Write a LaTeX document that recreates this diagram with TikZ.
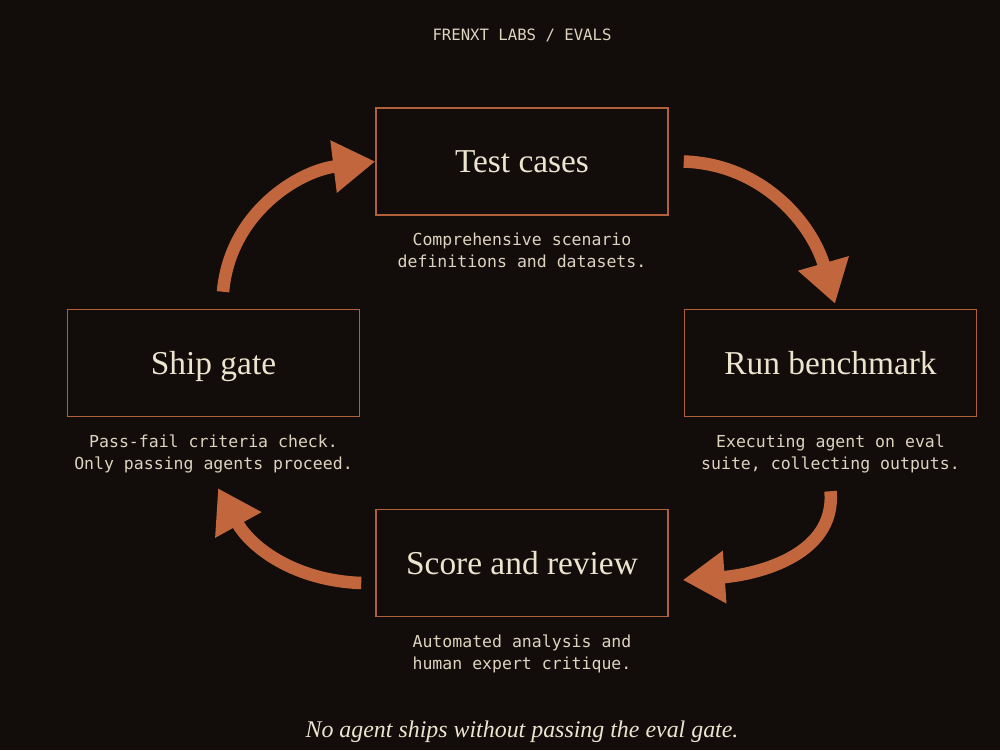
\documentclass[tikz,border=0pt]{standalone}
\usepackage{fontspec}
\usepackage{tikz}
\usetikzlibrary{positioning,arrows.meta}
\newfontfamily\monofont{DejaVu Sans Mono}
\newfontfamily\headfont{Liberation Serif}
\definecolor{bgdark}{HTML}{120D0B}
\definecolor{rust}{HTML}{B0603B}
\definecolor{arrowrust}{HTML}{C2673D}
\definecolor{cream}{HTML}{EDE4CF}
\definecolor{sand}{HTML}{DDD3BF}
\tikzset{
  stage/.style={draw=rust,line width=0.85pt,minimum width=5.84cm,minimum height=2.14cm,inner sep=0pt,text height=0.44cm,text depth=0pt,text=cream,font=\headfont\fontsize{19}{23}\selectfont},
  blurb/.style={text=sand,font=\monofont\fontsize{9.4}{12.5}\selectfont,align=center,inner sep=0pt},
  flow/.style={line width=0.25cm,draw=arrowrust,-{Triangle[length=0.84cm,width=1.0cm]}}
}

\begin{document}
\begin{tikzpicture}
  \fill[bgdark] (0,0) rectangle (20,15);
  \useasboundingbox (0,0) rectangle (20,15);

  \node[text=sand,font=\monofont\fontsize{8.9}{11}\selectfont] (brand) at (10.44,14.3) {FRENXT LABS / EVALS};

  \node[stage] (tc) at (10.44,11.77) {Test cases};
  \node[stage] (rb) at (16.61,7.74) {Run benchmark};
  \node[stage] (sr) at (10.44,3.74) {Score and review};
  \node[stage] (ship) at (4.27,7.74) {Ship gate};

  \node[blurb,below=0.34cm of tc] (tcnote) {Comprehensive scenario\\definitions and datasets.};
  \node[blurb,below=0.34cm of rb] (rbnote) {Executing agent on eval\\suite, collecting outputs.};
  \node[blurb,below=0.34cm of sr] (srnote) {Automated analysis and\\human expert critique.};
  \node[blurb,below=0.34cm of ship] (shipnote) {Pass-fail criteria check.\\Only passing agents proceed.};

  % the loop
  \draw[flow] ([xshift=0.19cm,yshift=0.34cm]ship.north) to[out=85,in=187] (tc.west);
  \draw[flow] ([xshift=0.3cm]tc.east) to[out=-2,in=106] ([xshift=0.09cm,yshift=0.1cm]rb.north);
  \draw[flow] ([yshift=-1.48cm]rb.south) to[out=-85,in=4] ([xshift=0.28cm,yshift=-0.34cm]sr.east);
  \draw[flow] ([xshift=-0.28cm,yshift=-0.4cm]sr.west) to[out=178,in=-61] ([xshift=0.09cm,yshift=-1.42cm]ship.south);

  \node[text=cream,font=\headfont\itshape\fontsize{13.6}{16}\selectfont] (motto) at (10.44,0.37) {No agent ships without passing the eval gate.};
\end{tikzpicture}
\end{document}
